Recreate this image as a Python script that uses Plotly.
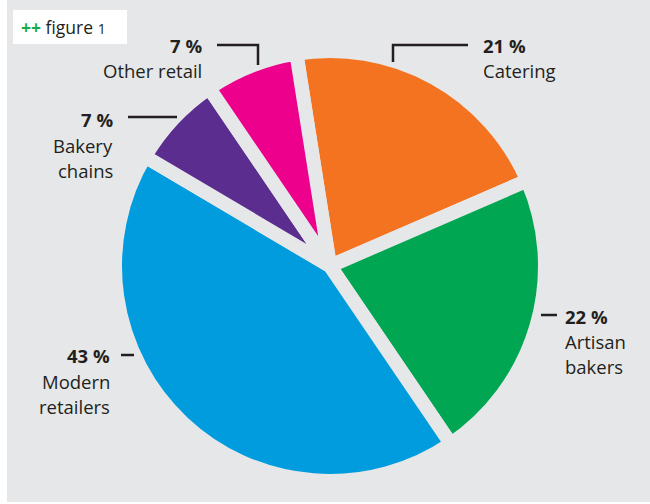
import plotly.graph_objects as go

# ---- data ----
labels = ["Catering", "Artisan bakers", "Modern retailers", "Bakery chains", "Other retail"]
values = [21, 22, 43, 7, 7]
pct_labels = ["21 %", "22 %", "43 %", "7 %", "7 %"]
name_lines = [["Catering"], ["Artisan", "bakers"], ["Modern", "retailers"], ["Bakery", "chains"], ["Other retail"]]
colors = ["#f47321", "#00a651", "#009cde", "#5b2d8e", "#ec008c"]

W, H = 650, 504
BG = "#e6e7e8"
INK = "#231f20"
FONT = "Open Sans"


def px(x):
    return x / W


def py(y):
    return 1 - y / H


# pie geometry (pixels)
cx, cy, R = 330, 266, 215

fig = go.Figure()
fig.add_trace(go.Pie(
    labels=labels,
    values=values,
    marker=dict(colors=colors, line=dict(color=BG, width=14)),
    sort=False,
    direction="clockwise",
    rotation=-9,
    textinfo="none",
    hoverinfo="label+percent",
    showlegend=False,
    domain=dict(x=[px(cx - R), px(cx + R)], y=[py(cy + R), py(cy - R)]),
))

# label layout: (anchor x, pct y, first name-line y, xanchor)
label_pos = [
    (481, 45, 71, "left"),
    (563, 316, 341, "left"),
    (112, 355, 381, "right"),
    (115, 119, 145, "right"),
    (204, 45, 71, "right"),
]
line_step = 25.5

annotations = []
for i, (x, ypct, yname, xa) in enumerate(label_pos):
    annotations.append(dict(
        x=px(x), y=py(ypct), xref="paper", yref="paper", xanchor=xa, yanchor="middle",
        text="<b>" + pct_labels[i] + "</b>", showarrow=False,
        font=dict(family=FONT, size=18.5, color=INK)))
    for j, ln in enumerate(name_lines[i]):
        annotations.append(dict(
            x=px(x), y=py(yname + j * line_step), xref="paper", yref="paper",
            xanchor=xa, yanchor="middle", text=ln, showarrow=False,
            font=dict(family=FONT, size=18.5, color=INK)))

# figure tag
annotations.append(dict(
    x=px(19), y=py(27), xref="paper", yref="paper", xanchor="left", yanchor="middle",
    text="<b><span style='color:#1aab4b'>++</span></b> figure <span style='font-size:14px'>1</span>",
    showarrow=False, font=dict(family=FONT, size=17.5, color=INK)))

shapes = [
    # white page strips
    dict(type="rect", xref="paper", yref="paper", x0=0, x1=px(7), y0=0, y1=1,
         fillcolor="white", line=dict(width=0), layer="below"),
    dict(type="rect", xref="paper", yref="paper", x0=0, x1=1, y0=0, y1=1 - 502 / H,
         fillcolor="white", line=dict(width=0), layer="below"),
    # figure tag box
    dict(type="rect", xref="paper", yref="paper", x0=px(13), x1=px(127), y0=py(44), y1=py(10),
         fillcolor="white", line=dict(width=0), layer="below"),
]

leaders = [
    [(393, 62), (393, 45), (468, 45)],
    [(541, 315), (557, 315)],
    [(121, 355), (134, 355)],
    [(128, 117), (177, 117)],
    [(217, 45), (258, 45), (258, 65)],
]
for pts in leaders:
    path = "M " + " L ".join(f"{px(a):.5f},{py(b):.5f}" for a, b in pts)
    shapes.append(dict(type="path", xref="paper", yref="paper", path=path,
                       line=dict(color=INK, width=2.5), layer="above"))

fig.update_layout(
    width=W, height=H,
    margin=dict(l=0, r=0, t=0, b=0),
    paper_bgcolor=BG,
    plot_bgcolor=BG,
    annotations=annotations,
    shapes=shapes,
    showlegend=False,
)

fig.write_html("out.html")
